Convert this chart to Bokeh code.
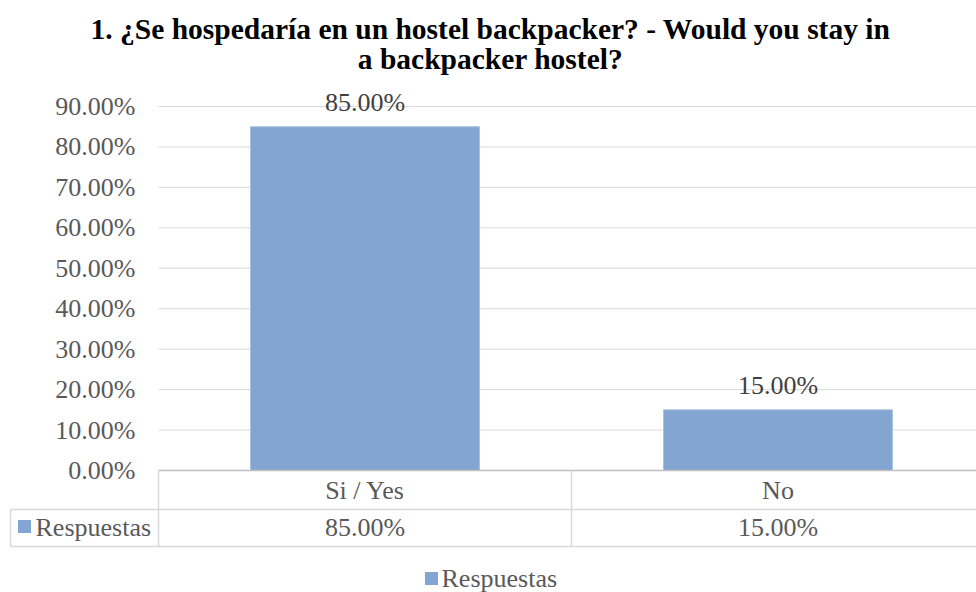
from bokeh.plotting import figure
from bokeh.models import Range1d, ColumnDataSource
from bokeh.core.properties import value
from bokeh.embed import file_html
from bokeh.resources import INLINE

# ---- data ----
categories = ["Si / Yes", "No"]
values = [0.85, 0.15]
value_labels = ["85.00%", "15.00%"]
series_name = "Respuestas"
y_tick_values = [0.0, 0.1, 0.2, 0.3, 0.4, 0.5, 0.6, 0.7, 0.8, 0.9]
y_tick_labels = ["0.00%", "10.00%", "20.00%", "30.00%", "40.00%",
                 "50.00%", "60.00%", "70.00%", "80.00%", "90.00%"]
title_lines = ["1. ¿Se hospedaría en un hostel backpacker? - Would you stay in",
               "a backpacker hostel?"]

# ---- layout (pixels) ----
W, H = 976, 592
PLOT_LEFT = 158.0       # px of plot area left
CAT_W = 413.0           # px per category
Y0_PX = 470.0           # px of 0 %
K = (470.0 - 106.0) / 0.9   # px per unit on y

def xd(px):
    return (px - PLOT_LEFT) / CAT_W

def yd(py):
    return (Y0_PX - py) / K

SERIF = value("Liberation Serif")
BAR_COLOR = "#82A6D1"
GRID = "#D9D9D9"
TXT = "#595959"
FS = "26px"

p = figure(width=W, height=H, output_backend="svg", toolbar_location=None,
           x_range=Range1d(xd(0), xd(W)), y_range=Range1d(yd(H), yd(0)),
           x_axis_type=None, y_axis_type=None, min_border=0)
p.grid.visible = False
p.outline_line_color = None
p.background_fill_color = "white"

n = len(categories)
x_end = float(n)
xc = [i + 0.5 for i in range(n)]

# gridlines
p.segment(x0=[0] * len(y_tick_values[1:]), x1=[x_end] * len(y_tick_values[1:]),
          y0=y_tick_values[1:], y1=y_tick_values[1:], line_color=GRID, line_width=1)

# bars
src = ColumnDataSource(dict(x=xc, top=values, lab=value_labels, cat=categories))
p.vbar(x="x", top="top", bottom=0, width=229.0 / CAT_W, source=src,
       fill_color=BAR_COLOR, line_color="#A9C2E0", line_width=1)

# data labels
p.text(x="x", y="top", text="lab", source=src, text_font=SERIF,
       text_font_size=FS, text_color="#404040", text_align="center",
       text_baseline="alphabetic", y_offset=-24)

# y tick labels
p.text(x=[0] * len(y_tick_values), y=y_tick_values, text=y_tick_labels,
       text_font=SERIF, text_font_size=FS, text_color=TXT,
       text_align="right", text_baseline="middle", x_offset=-23)

# data table lines
row1_bot = yd(509)
row2_bot = yd(546)
left_cell = xd(10)
tbl = "#D9D9D9"
# axis line (zero)
p.segment(x0=[0], x1=[x_end], y0=[0], y1=[0], line_color="#BFBFBF", line_width=1.5)
p.segment(x0=[left_cell, left_cell], x1=[x_end, x_end], y0=[row1_bot, row2_bot],
          y1=[row1_bot, row2_bot], line_color=tbl, line_width=1.5)
vx = [float(i) for i in range(n + 1)]
p.segment(x0=vx, x1=vx, y0=[0] * len(vx), y1=[row2_bot] * len(vx),
          line_color=tbl, line_width=1.5)
p.segment(x0=[left_cell], x1=[left_cell], y0=[row1_bot], y1=[row2_bot],
          line_color=tbl, line_width=1.5)

# table texts
p.text(x="x", y=yd(490), text="cat", source=src, text_font=SERIF,
       text_font_size=FS, text_color=TXT, text_align="center",
       text_baseline="middle")
p.text(x="x", y=yd(527), text="lab", source=src, text_font=SERIF,
       text_font_size=FS, text_color=TXT, text_align="center",
       text_baseline="middle")

# legend key in table
p.scatter(x=[xd(24)], y=[yd(526)], marker="square", size=13,
          fill_color=BAR_COLOR, line_color=None)
p.text(x=[xd(35)], y=[yd(527)], text=[series_name], text_font=SERIF,
       text_font_size=FS, text_color=TXT, text_align="left",
       text_baseline="middle")

# bottom legend
p.scatter(x=[xd(431)], y=[yd(578)], marker="square", size=13,
          fill_color=BAR_COLOR, line_color=None)
p.text(x=[xd(441)], y=[yd(578)], text=[series_name], text_font=SERIF,
       text_font_size=FS, text_color=TXT, text_align="left",
       text_baseline="middle")

# title
p.text(x=[xd(490), xd(490)], y=[yd(28), yd(58)], text=title_lines,
       text_font=SERIF, text_font_size="29.5px", text_font_style="bold",
       text_color="#000000", text_align="center", text_baseline="middle")

open("out.html", "w").write(file_html(p, INLINE))
